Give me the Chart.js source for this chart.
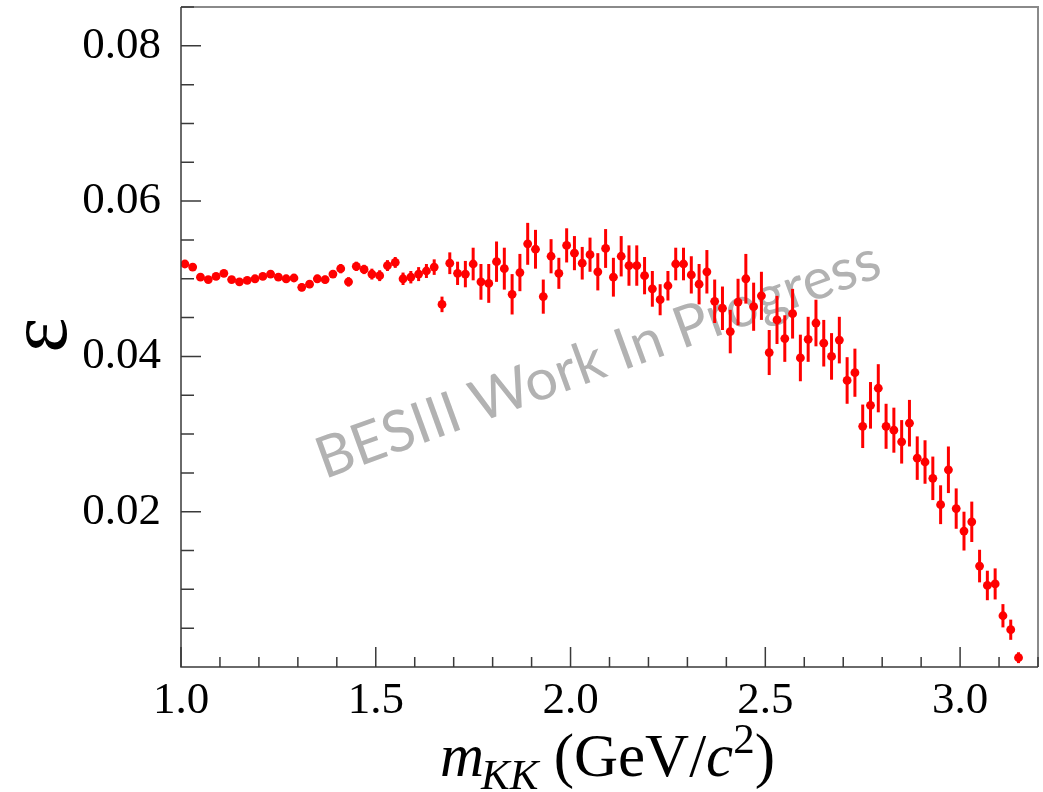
<!DOCTYPE html>
<html>
<head>
<meta charset="utf-8">
<script src="https://cdn.jsdelivr.net/npm/chart.js@4.4.0/dist/chart.umd.min.js"></script>
<style>
  html, body { margin: 0; padding: 0; background: #fff; }
  #wrap { width: 1043px; height: 792px; }
</style>
</head>
<body>
<div id="wrap"><canvas id="effChart" width="1043" height="792"></canvas></div>
<script>
// bin centres of m_KK (GeV/c^2)
const massBins = [
  1.01, 1.03, 1.05, 1.07, 1.09, 1.11, 1.13, 1.15, 1.17, 1.19,
  1.21, 1.23, 1.25, 1.27, 1.29, 1.31, 1.33, 1.35, 1.37, 1.39,
  1.41, 1.43, 1.45, 1.47, 1.49, 1.51, 1.53, 1.55, 1.57, 1.59,
  1.61, 1.63, 1.65, 1.67, 1.69, 1.71, 1.73, 1.75, 1.77, 1.79,
  1.81, 1.83, 1.85, 1.87, 1.89, 1.91, 1.93, 1.95, 1.97, 1.99,
  2.01, 2.03, 2.05, 2.07, 2.09, 2.11, 2.13, 2.15, 2.17, 2.19,
  2.21, 2.23, 2.25, 2.27, 2.29, 2.31, 2.33, 2.35, 2.37, 2.39,
  2.41, 2.43, 2.45, 2.47, 2.49, 2.51, 2.53, 2.55, 2.57, 2.59,
  2.61, 2.63, 2.65, 2.67, 2.69, 2.71, 2.73, 2.75, 2.77, 2.79,
  2.81, 2.83, 2.85, 2.87, 2.89, 2.91, 2.93, 2.95, 2.97, 2.99,
  3.01, 3.03, 3.05, 3.07, 3.09, 3.11, 3.13, 3.15
];

const efficiency = [
  0.0519, 0.0515, 0.0502, 0.0499, 0.0503, 0.0507, 0.0499, 0.0496, 0.0498, 0.0500,
  0.0503, 0.0506, 0.0502, 0.0500, 0.0501, 0.0489, 0.0493, 0.0500, 0.0499, 0.0506,
  0.0513, 0.0496, 0.0516, 0.0512, 0.0506, 0.0504, 0.0517, 0.0521, 0.0500, 0.0502,
  0.0506, 0.0510, 0.0515, 0.0467, 0.0520, 0.0507, 0.0506, 0.0519, 0.0496, 0.0494,
  0.0522, 0.0513, 0.0480, 0.0508, 0.0545, 0.0538, 0.0477, 0.0529, 0.0507, 0.0543,
  0.0533, 0.0520, 0.0531, 0.0509, 0.0539, 0.0502, 0.0529, 0.0517, 0.0517, 0.0504,
  0.0487, 0.0473, 0.0491, 0.0519, 0.0519, 0.0505, 0.0493, 0.0509, 0.0471, 0.0462,
  0.0432, 0.0470, 0.0500, 0.0464, 0.0478, 0.0405, 0.0447, 0.0423, 0.0455, 0.0398,
  0.0422, 0.0443, 0.0417, 0.0400, 0.0421, 0.0369, 0.0379, 0.0310, 0.0337, 0.0359,
  0.0310, 0.0305, 0.0290, 0.0314, 0.0269, 0.0264, 0.0243, 0.0209, 0.0254, 0.0204,
  0.0175, 0.0187, 0.0130, 0.0105, 0.0107, 0.0066, 0.0048, 0.0012
];

const efficiencyErr = [
  0.0003, 0.0003, 0.0003, 0.0003, 0.0003, 0.0003, 0.0003, 0.0003, 0.0004, 0.0004,
  0.0004, 0.0004, 0.0004, 0.0005, 0.0005, 0.0005, 0.0005, 0.0005, 0.0005, 0.0005,
  0.0006, 0.0006, 0.0006, 0.0006, 0.0007, 0.0007, 0.0007, 0.0007, 0.0008, 0.0008,
  0.0009, 0.0009, 0.0010, 0.0010, 0.0014, 0.0015, 0.0017, 0.0021, 0.0023, 0.0025,
  0.0026, 0.0027, 0.0026, 0.0024, 0.0027, 0.0025, 0.0022, 0.0022, 0.0020, 0.0022,
  0.0022, 0.0021, 0.0022, 0.0024, 0.0025, 0.0025, 0.0026, 0.0026, 0.0026, 0.0024,
  0.0023, 0.0020, 0.0019, 0.0021, 0.0021, 0.0024, 0.0026, 0.0028, 0.0028, 0.0028,
  0.0028, 0.0030, 0.0032, 0.0031, 0.0031, 0.0029, 0.0031, 0.0030, 0.0032, 0.0030,
  0.0029, 0.0030, 0.0030, 0.0030, 0.0030, 0.0030, 0.0031, 0.0028, 0.0030, 0.0031,
  0.0029, 0.0029, 0.0028, 0.0030, 0.0028, 0.0028, 0.0028, 0.0025, 0.0030, 0.0026,
  0.0025, 0.0026, 0.0021, 0.0019, 0.0020, 0.0015, 0.0013, 0.0007
];

const binHalfWidth = 0.01;
const xTickLabels = ['1.0', '1.5', '2.0', '2.5', '3.0'];
const yTickLabels = ['0.02', '0.04', '0.06', '0.08'];

const serif = '"Liberation Serif", "DejaVu Serif", serif';

const histoDecor = {
  id: 'histoDecor',
  beforeDatasetsDraw(chart) {
    const ctx = chart.ctx;
    const x = chart.scales.x, y = chart.scales.y;

    // watermark
    ctx.save();
    ctx.translate(598, 360);
    ctx.rotate(-20 * Math.PI / 180);
    const text = 'BESIII Work In Progress';
    let size = 60;
    ctx.font = size + 'px Lato, "Open Sans", sans-serif';
    size = size * 596 / ctx.measureText(text).width;
    ctx.font = size + 'px Lato, "Open Sans", sans-serif';
    ctx.fillStyle = '#b2b2b2';
    ctx.textAlign = 'center';
    ctx.textBaseline = 'middle';
    ctx.fillText(text, 0, 0);
    ctx.restore();

    // error bars
    ctx.save();
    ctx.strokeStyle = '#ff0000';
    massBins.forEach((m, i) => {
      const px = x.getPixelForValue(m);
      const lo = y.getPixelForValue(efficiency[i] - efficiencyErr[i]);
      const hi = y.getPixelForValue(efficiency[i] + efficiencyErr[i]);
      const py = y.getPixelForValue(efficiency[i]);
      ctx.lineWidth = 3;
      ctx.beginPath();
      ctx.moveTo(px, lo);
      ctx.lineTo(px, hi);
      ctx.stroke();
      ctx.lineWidth = 1.5;
      ctx.beginPath();
      ctx.moveTo(x.getPixelForValue(m - binHalfWidth), py);
      ctx.lineTo(x.getPixelForValue(m + binHalfWidth), py);
      ctx.stroke();
    });
    ctx.restore();
  },
  afterDraw(chart) {
    const ctx = chart.ctx;
    const x = chart.scales.x, y = chart.scales.y;
    const a = chart.chartArea;

    ctx.save();
    // top and right frame
    ctx.strokeStyle = '#8a8a8a';
    ctx.lineWidth = 2;
    ctx.beginPath();
    ctx.moveTo(a.left, a.top);
    ctx.lineTo(a.right, a.top);
    ctx.lineTo(a.right, a.bottom);
    ctx.stroke();

    // left and bottom axes
    ctx.strokeStyle = '#3a3a3a';
    ctx.lineWidth = 1.5;
    ctx.beginPath();
    ctx.moveTo(a.left, a.top);
    ctx.lineTo(a.left, a.bottom);
    ctx.lineTo(a.right, a.bottom);
    ctx.stroke();

    // tick marks pointing inward
    ctx.beginPath();
    for (let k = 0; k <= 22; k++) {
      const px = x.getPixelForValue(1.0 + k * 0.1);
      const len = k % 5 === 0 ? 20 : 10;
      ctx.moveTo(px, a.bottom);
      ctx.lineTo(px, a.bottom - len);
    }
    for (let k = 1; k <= 17; k++) {
      const py = y.getPixelForValue(k * 0.005);
      const len = k % 4 === 0 ? 20 : 13;
      ctx.moveTo(a.left, py);
      ctx.lineTo(a.left + len, py);
    }
    ctx.stroke();

    // x title: m_KK (GeV/c^2)
    ctx.fillStyle = '#000';
    ctx.textBaseline = 'alphabetic';
    ctx.textAlign = 'left';
    const base = 776;
    const big = 61, small = 43;
    const parts = [
      { t: 'm', f: 'italic ' + big + 'px ' + serif, dy: 0 },
      { t: 'KK', f: 'italic ' + small + 'px ' + serif, dy: 13, dx: -3 },
      { t: ' (GeV/', f: big + 'px ' + serif, dy: 0 },
      { t: 'c', f: 'italic ' + big + 'px ' + serif, dy: 0 },
      { t: '2', f: small + 'px ' + serif, dy: -23 },
      { t: ')', f: big + 'px ' + serif, dy: 0 }
    ];
    let cx = 440;
    parts.forEach(p => {
      ctx.font = p.f;
      cx += p.dx || 0;
      ctx.fillText(p.t, cx, base + p.dy);
      cx += ctx.measureText(p.t).width;
    });

    // y title: epsilon
    ctx.save();
    ctx.translate(44, 335);
    ctx.rotate(-Math.PI / 2);
    ctx.font = '84px ' + serif;
    ctx.textAlign = 'center';
    ctx.textBaseline = 'middle';
    ctx.fillText('\u03b5', 0, 0);
    ctx.restore();

    ctx.restore();
  }
};

const canvas = document.getElementById('effChart');
new Chart(canvas, {
  type: 'scatter',
  data: {
    datasets: [{
      data: massBins.map((m, i) => ({ x: m, y: efficiency[i] })),
      pointRadius: 4.4,
      pointHoverRadius: 4.4,
      pointBackgroundColor: '#ff0000',
      pointBorderWidth: 0,
      showLine: false
    }]
  },
  options: {
    responsive: false,
    animation: false,
    events: [],
    layout: { padding: { left: 0, right: 5, top: 7, bottom: 0 } },
    plugins: {
      legend: { display: false },
      tooltip: { enabled: false }
    },
    scales: {
      x: {
        type: 'linear',
        min: 1.0,
        max: 3.2,
        grid: { display: false },
        border: { display: false },
        ticks: {
          stepSize: 0.5,
          includeBounds: false,
          autoSkip: false,
          maxRotation: 0,
          padding: -1,
          color: '#000',
          font: { family: serif, size: 45 },
          callback: v => {
            const s = v.toFixed(1);
            return xTickLabels.includes(s) ? s : '';
          }
        },
        afterFit: s => { s.height = 125; s.paddingLeft = 0; s.paddingRight = 0; }
      },
      y: {
        type: 'linear',
        min: 0,
        max: 0.085,
        grid: { display: false },
        border: { display: false },
        ticks: {
          stepSize: 0.02,
          includeBounds: false,
          autoSkip: false,
          padding: 12,
          color: '#000',
          font: { family: serif, size: 45 },
          callback: v => {
            const s = v.toFixed(2);
            return yTickLabels.includes(s) ? s : '';
          }
        },
        afterFit: s => { s.width = 181; s.paddingTop = 0; s.paddingBottom = 0; }
      }
    }
  },
  plugins: [histoDecor]
});
</script>
</body>
</html>
